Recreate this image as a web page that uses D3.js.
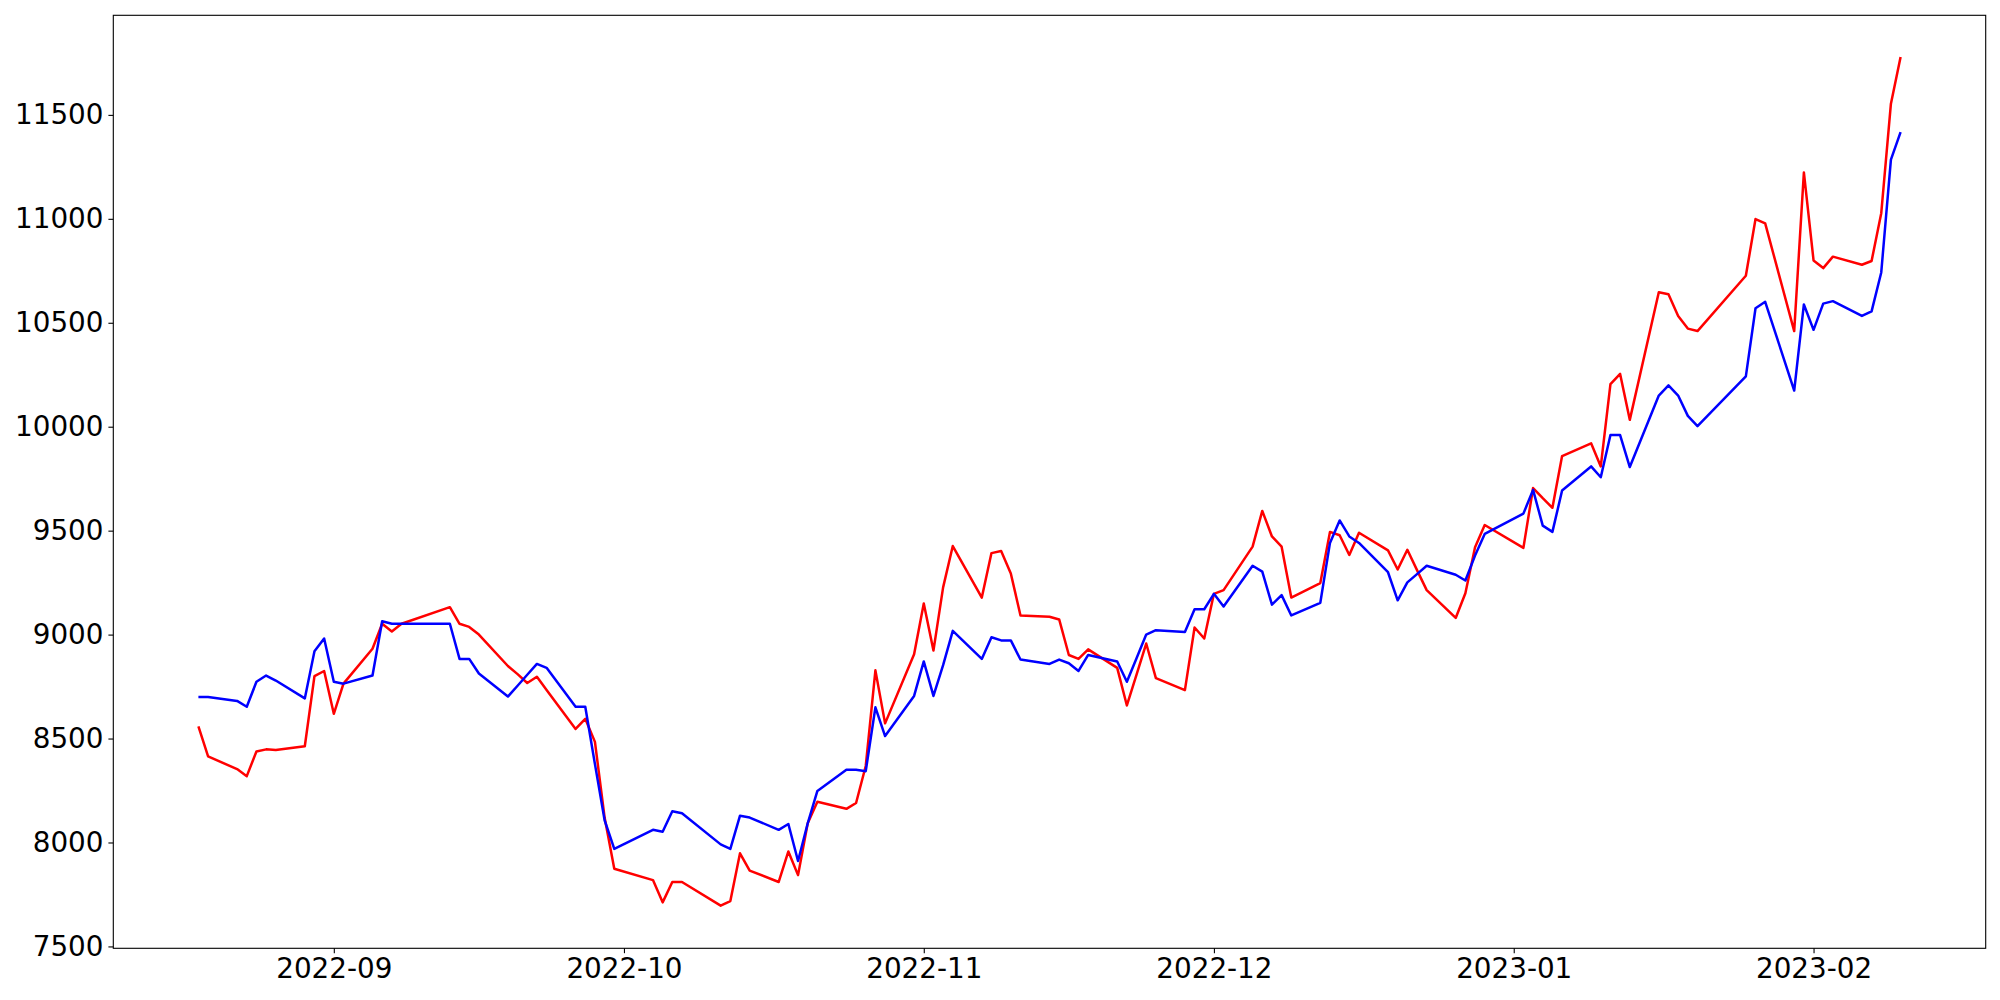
<!DOCTYPE html>
<html>
<head>
<meta charset="utf-8">
<script src="https://cdn.jsdelivr.net/npm/d3@7"></script>
<style>
  html, body { margin: 0; padding: 0; background: #fff; }
  svg { display: block; }
</style>
</head>
<body>
<svg id="chart" width="2000" height="1000"></svg>
<script>
const dates = [
  "2022-08-18","2022-08-19","2022-08-22","2022-08-23","2022-08-24","2022-08-25","2022-08-26","2022-08-29","2022-08-30","2022-08-31",
  "2022-09-01","2022-09-02","2022-09-05","2022-09-06","2022-09-07","2022-09-08","2022-09-13","2022-09-14","2022-09-15","2022-09-16",
  "2022-09-19","2022-09-20","2022-09-21","2022-09-22","2022-09-23","2022-09-26","2022-09-27","2022-09-28","2022-09-29","2022-09-30",
  "2022-10-04","2022-10-05","2022-10-06","2022-10-07","2022-10-11","2022-10-12","2022-10-13","2022-10-14","2022-10-17","2022-10-18",
  "2022-10-19","2022-10-20","2022-10-21","2022-10-24","2022-10-25","2022-10-26","2022-10-27","2022-10-28","2022-10-31","2022-11-01",
  "2022-11-02","2022-11-03","2022-11-04","2022-11-07","2022-11-08","2022-11-09","2022-11-10","2022-11-11","2022-11-14","2022-11-15",
  "2022-11-16","2022-11-17","2022-11-18","2022-11-21","2022-11-22","2022-11-23","2022-11-24","2022-11-25","2022-11-28","2022-11-29",
  "2022-11-30","2022-12-01","2022-12-02","2022-12-05","2022-12-06","2022-12-07","2022-12-08","2022-12-09","2022-12-12","2022-12-13",
  "2022-12-14","2022-12-15","2022-12-16","2022-12-19","2022-12-20","2022-12-21","2022-12-22","2022-12-23","2022-12-26","2022-12-27",
  "2022-12-28","2022-12-29","2023-01-02","2023-01-03","2023-01-04","2023-01-05","2023-01-06","2023-01-09","2023-01-10","2023-01-11",
  "2023-01-12","2023-01-13","2023-01-16","2023-01-17","2023-01-18","2023-01-19","2023-01-20","2023-01-25","2023-01-26","2023-01-27",
  "2023-01-30","2023-01-31","2023-02-01","2023-02-02","2023-02-03","2023-02-06","2023-02-07","2023-02-08","2023-02-09","2023-02-10"
];

const redValues = [
  8558,8414,8353,8319,8438,8448,8445,8463,8800,8825,
  8619,8764,8932,9052,9015,9052,9132,9052,9037,9000,
  8849,8810,8767,8797,8734,8546,8595,8484,8120,7874,
  7819,7712,7810,7810,7696,7718,7948,7865,7810,7957,
  7843,8092,8196,8162,8190,8368,8828,8573,8905,9150,
  8923,9227,9426,9178,9392,9402,9294,9092,9086,9073,
  8902,8883,8929,8840,8659,8808,8957,8791,8733,9034,
  8981,9196,9214,9423,9595,9472,9423,9178,9248,9494,
  9478,9383,9490,9405,9313,9408,9310,9214,9080,9199,
  9420,9527,9417,9705,9656,9610,9859,9920,9809,10205,
  10254,10033,10647,10637,10533,10472,10460,10726,10999,10978,
  10460,11223,10800,10763,10818,10779,10797,11027,11554,11778
];

const blueValues = [
  8700,8700,8681,8653,8773,8803,8779,8693,8920,8981,
  8773,8764,8803,9064,9052,9052,9052,8883,8883,8813,
  8702,8754,8807,8859,8840,8653,8653,8377,8107,7969,
  8061,8052,8150,8141,7991,7969,8129,8120,8061,8089,
  7911,8092,8248,8350,8350,8343,8650,8512,8705,8871,
  8705,8853,9018,8883,8987,8972,8972,8880,8859,8880,
  8862,8825,8902,8871,8773,8886,9000,9021,9012,9122,
  9122,9196,9135,9331,9303,9144,9190,9092,9153,9441,
  9549,9472,9441,9300,9165,9251,9291,9331,9288,9260,
  9380,9484,9582,9696,9524,9494,9693,9809,9757,9960,
  9960,9806,10150,10199,10150,10052,10003,10242,10570,10601,
  10174,10588,10466,10592,10604,10533,10555,10742,11285,11417
];

const yTickValues = [7500, 8000, 8500, 9000, 9500, 10000, 10500, 11000, 11500];

(function () {
  const parse = d3.utcParse("%Y-%m-%d");
  const parsedDates = dates.map(parse);

  const plotLeft = 113.3, plotRight = 1985.7, plotTop = 15.3, plotBottom = 948.3;

  const [d0, d1] = d3.extent(parsedDates);
  const span = d1 - d0;
  const x = d3.scaleUtc()
    .domain([new Date(+d0 - 0.05 * span), new Date(+d1 + 0.05 * span)])
    .range([plotLeft, plotRight]);

  const y = d3.scaleLinear()
    .domain([7491, 11979])
    .range([plotBottom, plotTop]);

  const svg = d3.select("#chart");
  svg.append("rect").attr("width", 2000).attr("height", 1000).attr("fill", "#fff");

  const fontFamily = "'DejaVu Sans', sans-serif";
  const fontSize = "27.8px";

  const line = d3.line()
    .x((d, i) => x(parsedDates[i]))
    .y(d => y(d));

  svg.append("path")
    .datum(redValues)
    .attr("d", line)
    .attr("fill", "none")
    .attr("stroke", "#ff0000")
    .attr("stroke-width", 2.5)
    .attr("stroke-linejoin", "round");

  svg.append("path")
    .datum(blueValues)
    .attr("d", line)
    .attr("fill", "none")
    .attr("stroke", "#0000ff")
    .attr("stroke-width", 2.5)
    .attr("stroke-linejoin", "round");

  const xAxis = d3.axisBottom(x)
    .ticks(d3.utcMonth.every(1))
    .tickFormat(d3.utcFormat("%Y-%m"))
    .tickSize(4.9)
    .tickPadding(4.9);

  const gx = svg.append("g")
    .attr("transform", `translate(0,${plotBottom})`)
    .call(xAxis);
  gx.select(".domain").remove();
  gx.selectAll("line").attr("stroke", "#000").attr("stroke-width", 1.1);
  gx.selectAll("text")
    .attr("fill", "#000")
    .style("font-family", fontFamily)
    .style("font-size", fontSize);

  const yAxis = d3.axisLeft(y)
    .tickValues(yTickValues)
    .tickFormat(d3.format("d"))
    .tickSize(4.9)
    .tickPadding(4.9);

  const gy = svg.append("g")
    .attr("transform", `translate(${plotLeft},0)`)
    .call(yAxis);
  gy.select(".domain").remove();
  gy.selectAll("line").attr("stroke", "#000").attr("stroke-width", 1.1);
  gy.selectAll("text")
    .attr("fill", "#000")
    .style("font-family", fontFamily)
    .style("font-size", fontSize);

  svg.append("rect")
    .attr("x", plotLeft)
    .attr("y", plotTop)
    .attr("width", plotRight - plotLeft)
    .attr("height", plotBottom - plotTop)
    .attr("fill", "none")
    .attr("stroke", "#000")
    .attr("stroke-width", 1.1);
})();
</script>
</body>
</html>
